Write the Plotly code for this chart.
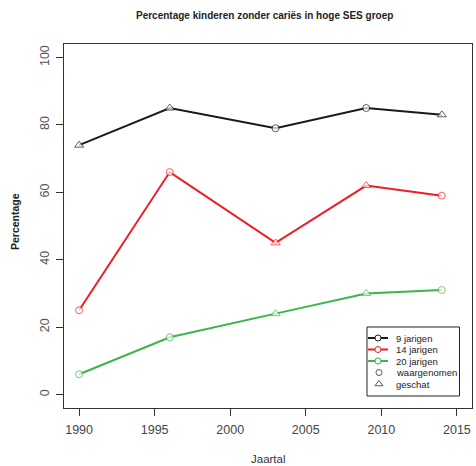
import plotly.graph_objects as go

# Survey years and share of caries-free children (%) per age group
years = [1990, 1996, 2003, 2009, 2014]
age_9 = [74, 85, 79, 85, 83]
age_14 = [25, 66, 45, 62, 59]
age_20 = [6, 17, 24, 30, 31]

# True where the value is an estimate (triangle) instead of an observation (circle)
est_9 = [True, True, False, False, True]
est_14 = [False, False, True, True, False]
est_20 = [False, False, True, True, False]

series_names = ["9 jarigen", "14 jarigen", "20 jarigen"]
series_colors = ["#1a1a1a", "#ee1c25", "#3cb44a"]
x_ticks = [1990, 1995, 2000, 2005, 2010, 2015]
y_ticks = [0, 20, 40, 60, 80, 100]

W, H = 476, 466
L, R, T, B = 64, 4, 44, 58

fig = go.Figure()

for name, vals, flags, col in zip(series_names, [age_9, age_14, age_20],
                                  [est_9, est_14, est_20], series_colors):
    fig.add_trace(go.Scatter(
        x=years, y=vals, mode="lines", name=name,
        line=dict(color=col, width=2), showlegend=False, hoverinfo="skip"))
    fig.add_trace(go.Scatter(
        x=years, y=vals, mode="markers", name=name, showlegend=False,
        marker=dict(symbol=["triangle-up" if f else "circle" for f in flags],
                    size=[8 if f else 7 for f in flags],
                    color="white", line=dict(color=col, width=1))))

# Legend box, drawn in pixel units on an overlay axis pair
rows = [338, 349.5, 361, 372.5, 384]
lx0, lx1, lmid, ltext = 368, 388, 378, 394
for i, (name, col) in enumerate(zip(series_names, series_colors)):
    fig.add_trace(go.Scatter(
        x=[lx0, lx1], y=[rows[i], rows[i]], xaxis="x2", yaxis="y2",
        mode="lines", line=dict(color=col, width=2),
        showlegend=False, hoverinfo="skip"))
    fig.add_trace(go.Scatter(
        x=[lmid], y=[rows[i]], xaxis="x2", yaxis="y2", mode="markers",
        marker=dict(symbol="circle", size=6, color="white",
                    line=dict(color=col, width=1)),
        showlegend=False, hoverinfo="skip"))
fig.add_trace(go.Scatter(
    x=[lmid + 1, lmid + 1], y=[rows[3], rows[4]], xaxis="x2", yaxis="y2",
    mode="markers",
    marker=dict(symbol=["circle", "triangle-up"], size=[6, 7], color="white",
                line=dict(color="#111", width=1)),
    showlegend=False, hoverinfo="skip"))

legend_labels = series_names + ["waargenomen", "geschat"]
annotations = []
for lab, yy in zip(legend_labels, rows):
    annotations.append(dict(
        x=ltext, y=yy, xref="x2", yref="y2", text=lab, showarrow=False,
        xanchor="left", yanchor="middle",
        font=dict(family="Liberation Sans", size=9.5, color="#222")))

pw = W - L - R
ph = H - T - B
annotations += [
    dict(x=(264 - L) / pw, y=(H - B - 15) / ph, xref="paper", yref="paper",
         text="<b>Percentage kinderen zonder cariës in hoge SES groep</b>",
         showarrow=False, xanchor="center", yanchor="middle",
         font=dict(family="Liberation Sans", size=10, color="#222")),
    dict(x=0.5, y=(H - B - 459) / ph, xref="paper", yref="paper",
         text="Jaartal", showarrow=False, xanchor="center", yanchor="middle",
         font=dict(family="Liberation Sans", size=11.5, color="#333")),
    dict(x=(15 - L) / pw, y=(H - B - 222) / ph, xref="paper", yref="paper",
         text="<b>Percentage</b>", showarrow=False, textangle=-90,
         xanchor="center", yanchor="middle",
         font=dict(family="Liberation Sans", size=10.5, color="#222")),
]

fig.update_layout(
    width=W, height=H,
    margin=dict(l=L, r=R, t=T, b=B, pad=0),
    paper_bgcolor="white", plot_bgcolor="white",
    showlegend=False,
    xaxis=dict(range=[1989, 2016], tickvals=x_ticks, ticks="outside",
               ticklen=7, tickcolor="#333", tickwidth=1,
               showline=True, mirror=True, linecolor="#333", linewidth=1,
               showgrid=False, zeroline=False, ticklabelstandoff=3,
               tickfont=dict(family="Liberation Sans", size=12.5, color="#444")),
    yaxis=dict(range=[-4, 104], tickvals=y_ticks, ticks="outside",
               ticklen=7, tickcolor="#333", tickwidth=1, tickangle=-90,
               showline=True, mirror=True, linecolor="#333", linewidth=1,
               showgrid=False, zeroline=False, ticklabelstandoff=2,
               tickfont=dict(family="Liberation Sans", size=12.5, color="#555")),
    xaxis2=dict(overlaying="x", range=[L, W - R], visible=False),
    yaxis2=dict(overlaying="y", range=[H - B, T], visible=False),
    shapes=[dict(type="rect", xref="x2", yref="y2", x0=367, x1=459.5,
                 y0=327, y1=396, line=dict(color="#222", width=1),
                 fillcolor="white", layer="below")],
    annotations=annotations,
)

fig.write_html("out.html")
